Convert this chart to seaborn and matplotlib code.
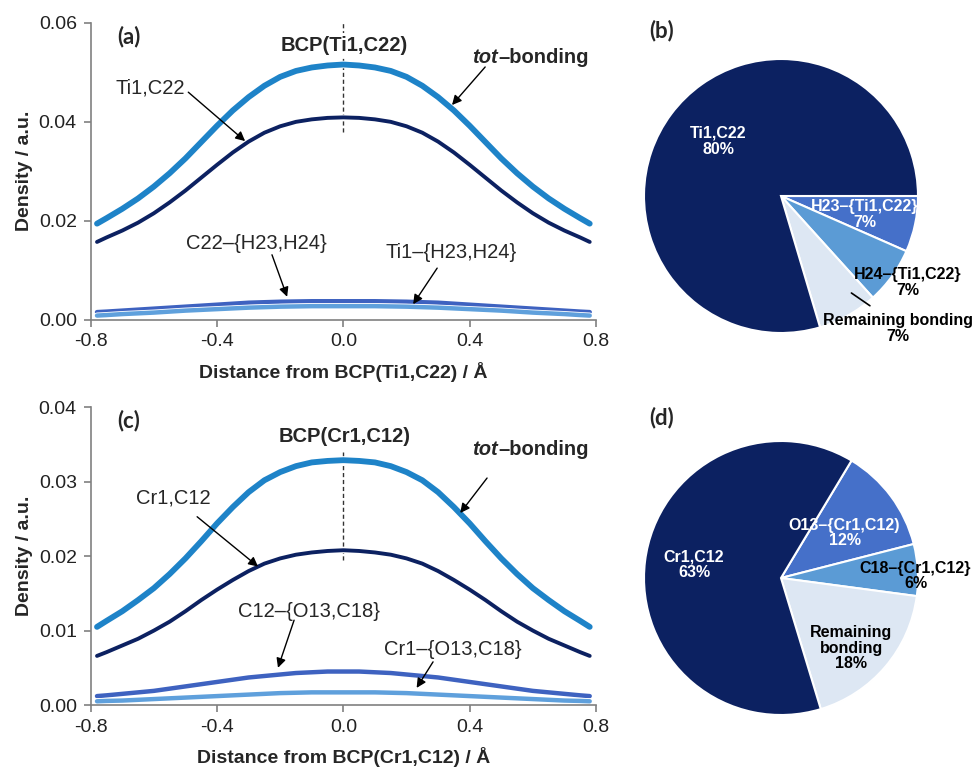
import numpy as np
import pandas as pd
import seaborn as sns
import matplotlib.pyplot as plt
import matplotlib.patheffects as pe

# ---------------- data ----------------
dist = [-0.78, -0.75, -0.7, -0.65, -0.6, -0.55, -0.5, -0.45, -0.4, -0.35, -0.3, -0.25,
        -0.2, -0.15, -0.1, -0.05, 0.0, 0.05, 0.1, 0.15, 0.2, 0.25, 0.3, 0.35, 0.4,
        0.45, 0.5, 0.55, 0.6, 0.65, 0.7, 0.75, 0.78]

# (a) profiles along the Ti1-C22 bond path
ti_tot = [0.0194, 0.0205, 0.0224, 0.0245, 0.0269, 0.0296, 0.0326, 0.0359, 0.0392,
          0.0423, 0.0450, 0.0473, 0.0491, 0.0503, 0.0510, 0.0514, 0.0516,
          0.0514, 0.0510, 0.0503, 0.0491, 0.0473, 0.0450, 0.0423, 0.0392,
          0.0359, 0.0326, 0.0296, 0.0269, 0.0245, 0.0224, 0.0205, 0.0194]
ti_bond = [0.0157, 0.0166, 0.0180, 0.0196, 0.0215, 0.0237, 0.0261, 0.0287, 0.0313,
           0.0338, 0.0360, 0.0378, 0.0391, 0.0400, 0.0405, 0.0408, 0.0409,
           0.0408, 0.0405, 0.0400, 0.0391, 0.0378, 0.0360, 0.0338, 0.0313,
           0.0287, 0.0261, 0.0237, 0.0215, 0.0196, 0.0180, 0.0166, 0.0157]
ti_c22_h = [0.0015, 0.0016, 0.0018, 0.0020, 0.0022, 0.0024, 0.0026, 0.0028, 0.0030,
            0.0032, 0.0034, 0.0035, 0.0036, 0.00365, 0.0037, 0.0037, 0.0037,
            0.0037, 0.0037, 0.00365, 0.0036, 0.0035, 0.0034, 0.0032, 0.0030,
            0.0028, 0.0026, 0.0024, 0.0022, 0.0020, 0.0018, 0.0016, 0.0015]
ti_ti1_h = [0.0008, 0.0009, 0.0011, 0.00125, 0.0014, 0.0016, 0.0018, 0.00195, 0.0021,
            0.00225, 0.0024, 0.0025, 0.0026, 0.00265, 0.0027, 0.0027, 0.0027,
            0.0027, 0.0027, 0.00265, 0.0026, 0.0025, 0.0024, 0.00225, 0.0021,
            0.00195, 0.0018, 0.0016, 0.0014, 0.00125, 0.0011, 0.0009, 0.0008]

# (c) profiles along the Cr1-C12 bond path
cr_tot = [0.0105, 0.0113, 0.0126, 0.0141, 0.0157, 0.0176, 0.0197, 0.0220, 0.0244,
          0.0266, 0.0286, 0.0302, 0.0313, 0.0321, 0.0326, 0.0328, 0.0329,
          0.0328, 0.0326, 0.0321, 0.0313, 0.0302, 0.0286, 0.0266, 0.0244,
          0.0220, 0.0197, 0.0176, 0.0157, 0.0141, 0.0126, 0.0113, 0.0105]
cr_bond = [0.0066, 0.0071, 0.0080, 0.0089, 0.0100, 0.0112, 0.0126, 0.0141, 0.0155,
           0.0168, 0.0180, 0.0190, 0.0197, 0.0202, 0.0205, 0.0207, 0.0208,
           0.0207, 0.0205, 0.0202, 0.0197, 0.0190, 0.0180, 0.0168, 0.0155,
           0.0141, 0.0126, 0.0112, 0.0100, 0.0089, 0.0080, 0.0071, 0.0066]
cr_c12_o = [0.0012, 0.0013, 0.0015, 0.0017, 0.0019, 0.0022, 0.0025, 0.0028, 0.0031,
            0.0034, 0.0037, 0.0039, 0.0041, 0.0043, 0.0044, 0.0045, 0.0045,
            0.0045, 0.0044, 0.0043, 0.0041, 0.0039, 0.0037, 0.0034, 0.0031,
            0.0028, 0.0025, 0.0022, 0.0019, 0.0017, 0.0015, 0.0013, 0.0012]
cr_cr1_o = [0.0005, 0.00055, 0.0006, 0.0007, 0.0008, 0.0009, 0.0010, 0.0011, 0.0012,
            0.0013, 0.0014, 0.0015, 0.0016, 0.00165, 0.0017, 0.0017, 0.0017,
            0.0017, 0.0017, 0.00165, 0.0016, 0.0015, 0.0014, 0.0013, 0.0012,
            0.0011, 0.0010, 0.0009, 0.0008, 0.0007, 0.0006, 0.00055, 0.0005]

# (b) and (d) pie shares, in clockwise order
pie_b_names = ["H23\u2013{Ti1,C22}", "H24\u2013{Ti1,C22}", "Remaining bonding", "Ti1,C22"]
pie_b_vals = [6.6, 6.7, 7.1, 79.6]
pie_d_names = ["O13\u2013{Cr1,C12)", "C18\u2013{Cr1,C12}", "Remaining\nbonding", "Cr1,C12"]
pie_d_vals = [12.4, 6.1, 18.2, 63.3]

x_ticks = [-0.8, -0.4, 0.0, 0.4, 0.8]
y_ticks_a = [0.00, 0.02, 0.04, 0.06]
y_ticks_c = [0.00, 0.01, 0.02, 0.03, 0.04]

# ---------------- styling ----------------
NAVY = "#0c2161"
C_TOT = "#1e83c8"
C_MID = "#3e62c0"
C_LIGHT = "#5fa0dc"
PIE_COLORS = ["#4570c9", "#5b9bd5", "#dde7f3", NAVY]

sns.set_theme(style="ticks")
plt.rcParams["font.family"] = ["Liberation Sans", "DejaVu Sans"]

fig = plt.figure(figsize=(9.72, 7.69), dpi=100)
ax_a = fig.add_axes([0.0933, 0.5845, 0.5199, 0.3856])
ax_c = fig.add_axes([0.0933, 0.0832, 0.5199, 0.3871])
ax_b = fig.add_axes([(781 - 137) / 972, 1 - (196 + 137) / 769, 274 / 972, 274 / 769])
ax_d = fig.add_axes([(781 - 137) / 972, 1 - (578 + 137) / 769, 274 / 972, 274 / 769])


def draw_lines(ax, series):
    for vals, col, lw in series:
        sns.lineplot(x=dist, y=vals, ax=ax, color=col, linewidth=lw,
                     solid_capstyle="round", solid_joinstyle="round", path_effects=[
                         pe.Stroke(linewidth=lw + 1.2, foreground="white"), pe.Normal()])


def style_axis(ax, yticks, xlabel):
    ax.set_xlim(-0.8, 0.8)
    ax.set_ylim(yticks[0], yticks[-1])
    ax.set_xticks(x_ticks)
    ax.set_xticklabels([f"{t:.1f}" for t in x_ticks])
    ax.set_yticks(yticks)
    ax.set_yticklabels([f"{t:.2f}" for t in yticks])
    sns.despine(ax=ax)
    for s in ["left", "bottom"]:
        ax.spines[s].set_color("#808080")
        ax.spines[s].set_linewidth(1.2)
    ax.tick_params(axis="both", direction="out", length=5, width=1.2, color="#808080",
                   labelsize=14, labelcolor="#222222", pad=5)
    ax.set_xlabel(xlabel, fontsize=14, fontweight="bold", labelpad=8)
    ax.set_ylabel("Density / a.u.", fontsize=14, fontweight="bold", labelpad=4)


def arrow(ax, start, end):
    ax.annotate("", xy=end, xytext=start,
                arrowprops=dict(arrowstyle="-|>", color="black", lw=1.0,
                                mutation_scale=14, shrinkA=0, shrinkB=0))


def tot_label(ax, x, y):
    ax.text(x, y, "tot", fontsize=14.5, fontweight="bold", fontstyle="italic",
            ha="right", va="center")
    ax.text(x, y, "\u2013bonding", fontsize=14.5, fontweight="bold", ha="left", va="center")


# ---- (a)
draw_lines(ax_a, [(ti_tot, C_TOT, 4.2), (ti_bond, NAVY, 2.8),
                  (ti_c22_h, C_MID, 3.2), (ti_ti1_h, C_LIGHT, 3.2)])
style_axis(ax_a, y_ticks_a, "Distance from BCP(Ti1,C22) / \u00c5")
ax_a.vlines(0, 0.038, 0.06, colors="#333333", linestyles=(0, (3, 2)), linewidth=1, zorder=1)
ax_a.text(0.002, 0.0555, "BCP(Ti1,C22)", fontsize=14.5, fontweight="bold", ha="center",
          va="center", bbox=dict(facecolor="white", edgecolor="none", pad=2))
ax_a.text(-0.679, 0.0572, "(a)", fontsize=16, fontweight="bold", family="Lato",
          ha="center", va="center")
tot_label(ax_a, 0.49, 0.0531)
arrow(ax_a, (0.449, 0.0511), (0.344, 0.0434))
ax_a.text(-0.612, 0.0468, "Ti1,C22", fontsize=14.5, ha="center", va="center")
arrow(ax_a, (-0.491, 0.0460), (-0.311, 0.0361))
ax_a.text(-0.276, 0.0153, "C22\u2013{H23,H24}", fontsize=14.5, ha="center", va="center")
arrow(ax_a, (-0.226, 0.0131), (-0.178, 0.0046))
ax_a.text(0.341, 0.0135, "Ti1\u2013{H23,H24}", fontsize=14.5, ha="center", va="center")
arrow(ax_a, (0.297, 0.0104), (0.221, 0.0031))

# ---- (c)
draw_lines(ax_c, [(cr_tot, C_TOT, 4.2), (cr_bond, NAVY, 2.8),
                  (cr_c12_o, C_MID, 3.2), (cr_cr1_o, C_LIGHT, 3.2)])
style_axis(ax_c, y_ticks_c, "Distance from BCP(Cr1,C12) / \u00c5")
ax_c.vlines(0, 0.0195, 0.034, colors="#333333", linestyles=(0, (3, 2)), linewidth=1, zorder=1)
ax_c.text(0.005, 0.0361, "BCP(Cr1,C12)", fontsize=14.5, fontweight="bold", ha="center",
          va="center")
ax_c.text(-0.679, 0.0382, "(c)", fontsize=16, fontweight="bold", family="Lato",
          ha="center", va="center")
tot_label(ax_c, 0.49, 0.0344)
arrow(ax_c, (0.455, 0.0305), (0.370, 0.0258))
ax_c.text(-0.539, 0.0278, "Cr1,C12", fontsize=14.5, ha="center", va="center")
arrow(ax_c, (-0.463, 0.0253), (-0.27, 0.0186))
ax_c.text(-0.108, 0.0125, "C12\u2013{O13,C18}", fontsize=14.5, ha="center", va="center")
arrow(ax_c, (-0.156, 0.0114), (-0.207, 0.0050))
ax_c.text(0.345, 0.0074, "Cr1\u2013{O13,C18}", fontsize=14.5, ha="center", va="center")
arrow(ax_c, (0.284, 0.0058), (0.232, 0.0023))


# ---- pies
def draw_pie(ax, vals, names, start, label_pos, label_cols):
    ax.pie(vals, colors=PIE_COLORS, startangle=start, counterclock=False, radius=1,
           wedgeprops=dict(edgecolor="white", linewidth=1.5))
    for v, name, (px, py), col in zip(vals, names, label_pos, label_cols):
        ax.text(px, py, f"{name}\n{round(v)}%", color=col, fontsize=11.5, fontweight="bold",
                ha="center", va="center", linespacing=1.05)
    ax.set_xlim(-1, 1)
    ax.set_ylim(-1, 1)
    ax.set_aspect("equal")


draw_pie(ax_b, pie_b_vals, pie_b_names, 0,
         [(0.61, -0.135), (0.926, -0.63), (0.853, -0.968), (-0.46, 0.40)],
         ["white", "black", "black", "white"])
ax_b.plot([0.514, 0.649], [-0.708, -0.801], color="black", lw=1.2)
draw_pie(ax_d, pie_d_vals, pie_d_names, 59,
         [(0.464, 0.329), (0.982, 0.015), (0.513, -0.511), (-0.635, 0.094)],
         ["white", "black", "black", "white"])
fig.text(662 / 972, 1 - 31 / 769, "(b)", fontsize=16, fontweight="bold", family="Lato",
         ha="center", va="center")
fig.text(662 / 972, 1 - 418 / 769, "(d)", fontsize=16, fontweight="bold", family="Lato",
         ha="center", va="center")

fig.savefig("out.png", dpi=100)
